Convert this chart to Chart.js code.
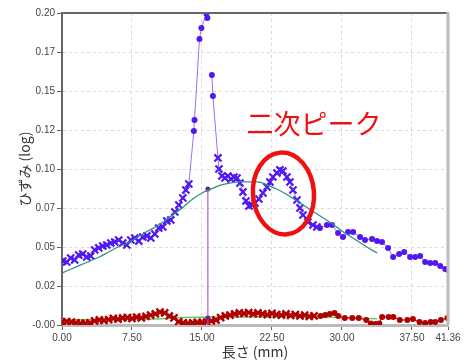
<!DOCTYPE html>
<html><head><meta charset="utf-8">
<script src="https://cdn.jsdelivr.net/npm/chart.js@4/dist/chart.umd.min.js"></script>
<style>html,body{margin:0;padding:0;background:#fff}#wrap{width:470px;height:360px}</style>
</head><body><div id="wrap"><canvas id="c" width="470" height="360"></canvas></div>
<script>
// ---- tick labels ----
const xTickValues=[0,7.5,15,22.5,30,37.5,41.36];
const xTickLabels=['0.00','7.50','15.00','22.50','30.00','37.50','41.36'];
const yTickValues=[0,0.025,0.05,0.075,0.1,0.125,0.15,0.175,0.2];
const yTickLabels=['-0.00','0.02','0.05','0.07','0.10','0.12','0.15','0.17','0.20'];

// ---- measured strain (purple) ----
const strainX=[0.08,0.50,0.93,1.36,1.79,2.22,2.65,3.08,3.51,3.94,4.37,4.80,5.23,5.65,6.08,6.51,6.94,7.37,7.80,8.23,8.66,9.09,9.52,9.95,10.37,10.80,11.23,11.66,12.09,12.52,12.95,13.27,13.59,
 14.13,14.20,14.73,14.94,15.47,15.58,15.90,16.06,16.17,16.71,16.82,
 17.14,17.46,17.78,18.10,18.42,18.75,19.07,19.39,19.71,20.04,20.36,20.68,21.10,21.53,21.96,22.28,22.60,23.03,23.35,23.67,24.10,24.42,24.75,25.18,25.50,25.82,26.35,26.89,27.31,
 27.64,28.39,28.93,29.58,30.11,30.65,31.19,31.94,32.47,33.22,33.76,34.29,34.94,35.48,36.12,36.66,37.30,37.84,38.37,38.91,39.45,39.99,40.52,41.06,41.35];
const strainY=[0.0410,0.0404,0.0429,0.0417,0.0449,0.0455,0.0436,0.0442,0.0481,0.0494,0.0506,0.0513,0.0526,0.0532,0.0545,0.0526,0.0513,0.0545,0.0558,0.0538,0.0564,0.0571,0.0558,0.0583,0.0622,0.0628,0.0667,0.0673,0.0724,0.0769,0.0814,0.0865,0.0904,
 0.1244,0.1314,0.1833,0.1904,0.1995,0.1968,null,0.1603,0.1468,0.1071,0.1000,
 0.0955,0.0942,0.0955,0.0936,0.0949,0.0942,0.0910,0.0853,0.0795,0.0763,0.0769,0.0782,0.0808,0.0846,0.0885,0.0917,0.0949,0.0974,0.0994,0.0987,0.0949,0.0917,0.0865,0.0801,0.0750,0.0705,0.0660,0.0641,0.0628,
 0.0622,0.0641,0.0641,0.0590,0.0564,0.0596,0.0596,0.0564,0.0545,0.0551,0.0538,0.0532,0.0494,0.0436,0.0455,0.0468,0.0436,0.0436,0.0442,0.0404,0.0397,0.0397,0.0378,0.0359,0.0353];

// ---- fitted curve (teal) ----
const fitX=[0,1,2,3,4,5,6,7,8,9,10,11,12,13,14,15,16,17,18,19,20,21,22,23,24,25,26,27,28,29,30,31,32,33,33.76];
const fitY=[0.0333,0.0359,0.0385,0.0410,0.0436,0.0468,0.0500,0.0526,0.0558,0.0596,0.0628,0.0667,0.0712,0.0756,0.0808,0.0846,0.0872,0.0897,0.0910,0.0917,0.0917,0.0917,0.0897,0.0872,0.0840,0.0801,0.0763,0.0724,0.0686,0.0647,0.0603,0.0564,0.0526,0.0487,0.0462];

// ---- residual (dark red) ----
const resX=[0,0.5,1,1.5,2,2.5,3,3.5,4,4.5,5,5.5,6,6.5,7,7.5,8,8.5,9,9.5,10,10.5,11,11.5,12,12.5,13,13.5,14,14.5,15,15.5,16,16.5,17,17.5,18,18.5,19,19.5,20,20.5,21,21.5,22,22.5,23,23.5,24,24.5,25,25.5,26,26.5,27,
 27.7,28.2,28.7,29.2,29.6,30.3,31.1,31.8,32.6,33.1,33.6,34.0,34.3,35.0,35.5,36.2,37.0,37.6,38.3,38.9,39.5,40.0,40.6,41.3];
const resY=[0.0019,0.0022,0.0019,0.0013,0.0010,0.0010,0.0013,0.0026,0.0032,0.0029,0.0035,0.0042,0.0038,0.0045,0.0048,0.0042,0.0051,0.0045,0.0055,0.0064,0.0071,0.0083,0.0077,0.0058,0.0045,0.0022,0.0013,0.0010,0.0013,0.0016,0.0016,0.0019,0.0026,0.0032,0.0048,0.0058,0.0064,0.0071,0.0077,0.0074,0.0080,0.0071,0.0077,0.0071,0.0067,0.0074,0.0067,0.0064,0.0071,0.0061,0.0067,0.0058,0.0064,0.0055,0.0058,
 0.0058,0.0064,0.0070,0.0077,0.0058,0.0045,0.0045,0.0045,0.0032,0.0010,0.0006,0.0010,0.0051,0.0051,0.0051,0.0032,0.0032,0.0038,0.0019,0.0013,0.0019,0.0019,0.0032,0.0045];

// ---- residual fit (green) ----
const resFitX=[0,4,8,10,13,16,20,24,28,31,33.76];
const resFitY=[0.0032,0.0035,0.0037,0.0038,0.0048,0.0051,0.0051,0.0051,0.0051,0.0045,0.0040];

// ---- peak position marker ----
const markX=[15.63,15.63,15.63];
const markY=[0.0872,0.0045,0];

// ---- annotation ----
const noteText='二次ピーク';
const notePos={x:27.0,y:0.1288};
const ellipseCenter={x:23.73,y:0.0843};

const pts=(xs,ys)=>xs.map((x,i)=>({x:x,y:ys[i]}));
const strainCross=x=>x<=13.7||(x>=16.6&&x<=27.4);
const resCross=x=>x<27.5;

const framePlugin={
  id:'frame',
  afterDatasetsDraw(chart){
    const {ctx,chartArea:a,scales}=chart;
    ctx.save();
    ctx.setLineDash([]);
    // annotation ellipse
    const cx=scales.x.getPixelForValue(ellipseCenter.x), cy=scales.y.getPixelForValue(ellipseCenter.y);
    ctx.strokeStyle='#ee1111'; ctx.lineWidth=4.5;
    ctx.beginPath(); ctx.ellipse(cx,cy,30.5,41,-0.08,0,Math.PI*2); ctx.stroke();
    // annotation text
    ctx.fillStyle='#ee1111';
    ctx.font='27px "Noto Sans CJK JP"';
    ctx.textAlign='center'; ctx.textBaseline='middle';
    ctx.fillText(noteText,scales.x.getPixelForValue(notePos.x),scales.y.getPixelForValue(notePos.y));
    // frame top / right
    ctx.strokeStyle='#666'; ctx.lineWidth=2;
    ctx.beginPath(); ctx.moveTo(a.left-1,a.top); ctx.lineTo(a.right,a.top); ctx.stroke();
    ctx.strokeStyle='#bbb'; ctx.lineWidth=3;
    ctx.beginPath(); ctx.moveTo(a.right,a.top-1); ctx.lineTo(a.right,a.bottom); ctx.stroke();
    ctx.restore();
  }
};

const tickFont={family:'"Liberation Sans", Arial, sans-serif',size:10};
new Chart(document.getElementById('c'),{
  type:'line',
  data:{datasets:[
    {data:pts(fitX,fitY),borderColor:'#2f8f8a',borderWidth:1.3,pointRadius:0,cubicInterpolationMode:'monotone',fill:false},
    {data:pts(markX,markY),borderColor:'#b45ac8',borderWidth:1.2,pointRadius:[2.5,2.5,0],pointBackgroundColor:'#7a237a',pointBorderColor:'#7a237a',pointBorderWidth:0,fill:false},
    {data:pts(strainX,strainY),borderColor:'#9a72f7',borderWidth:1,fill:false,
     pointStyle:c=>strainCross(c.raw.x)?'crossRot':'circle',
     pointRadius:c=>strainCross(c.raw.x)?5:3,
     pointBorderWidth:c=>strainCross(c.raw.x)?2.2:0,
     pointBackgroundColor:'#5218f2',pointBorderColor:'#5218f2'},
    {data:pts(resX,resY),borderColor:'#b50000',borderWidth:1,fill:false,
     pointStyle:c=>resCross(c.raw.x)?'crossRot':'circle',
     pointRadius:c=>resCross(c.raw.x)?5:3,
     pointBorderWidth:c=>resCross(c.raw.x)?2.4:0,
     pointBackgroundColor:'#b00000',pointBorderColor:'#b00000'},
    {data:pts(resFitX,resFitY),borderColor:'#6cc86c',borderWidth:1.5,pointRadius:0,cubicInterpolationMode:'monotone',fill:false}
  ]},
  options:{
    responsive:false,animation:false,devicePixelRatio:1,
    layout:{padding:{top:13,right:22,left:0,bottom:0}},
    plugins:{legend:{display:false},tooltip:{enabled:false}},
    scales:{
      x:{type:'linear',min:0,max:41.36,
        afterBuildTicks:s=>{s.ticks=xTickValues.map(v=>({value:v}));},
        afterFit:s=>{s.height=35;},
        ticks:{autoSkip:false,maxRotation:0,padding:2,color:'#444',font:tickFont,callback:(v,i)=>xTickLabels[i]},
        grid:{color:'#dadada',tickLength:5,tickColor:'#666',tickBorderDash:[],tickWidth:1},
        border:{color:'#bbb',width:3,dash:[3,3]},
        title:{display:true,text:'長さ (mm)',color:'#333',font:{family:'"Noto Sans CJK JP"',size:14},padding:{top:0,bottom:0}}
      },
      y:{type:'linear',min:0,max:0.2,
        afterBuildTicks:s=>{s.ticks=yTickValues.map(v=>({value:v}));},
        afterFit:s=>{s.width=62;},
        ticks:{padding:2,color:'#444',font:tickFont,callback:(v,i)=>yTickLabels[i]},
        grid:{color:'#dadada',tickLength:5,tickColor:'#666',tickBorderDash:[],tickWidth:1},
        border:{color:'#666',width:2,dash:[3,3]},
        title:{display:true,text:'ひずみ (log)',color:'#333',font:{family:'"Noto Sans CJK JP"',size:14},padding:{top:16,bottom:0}}
      }
    }
  },
  plugins:[framePlugin]
});
</script></body></html>
